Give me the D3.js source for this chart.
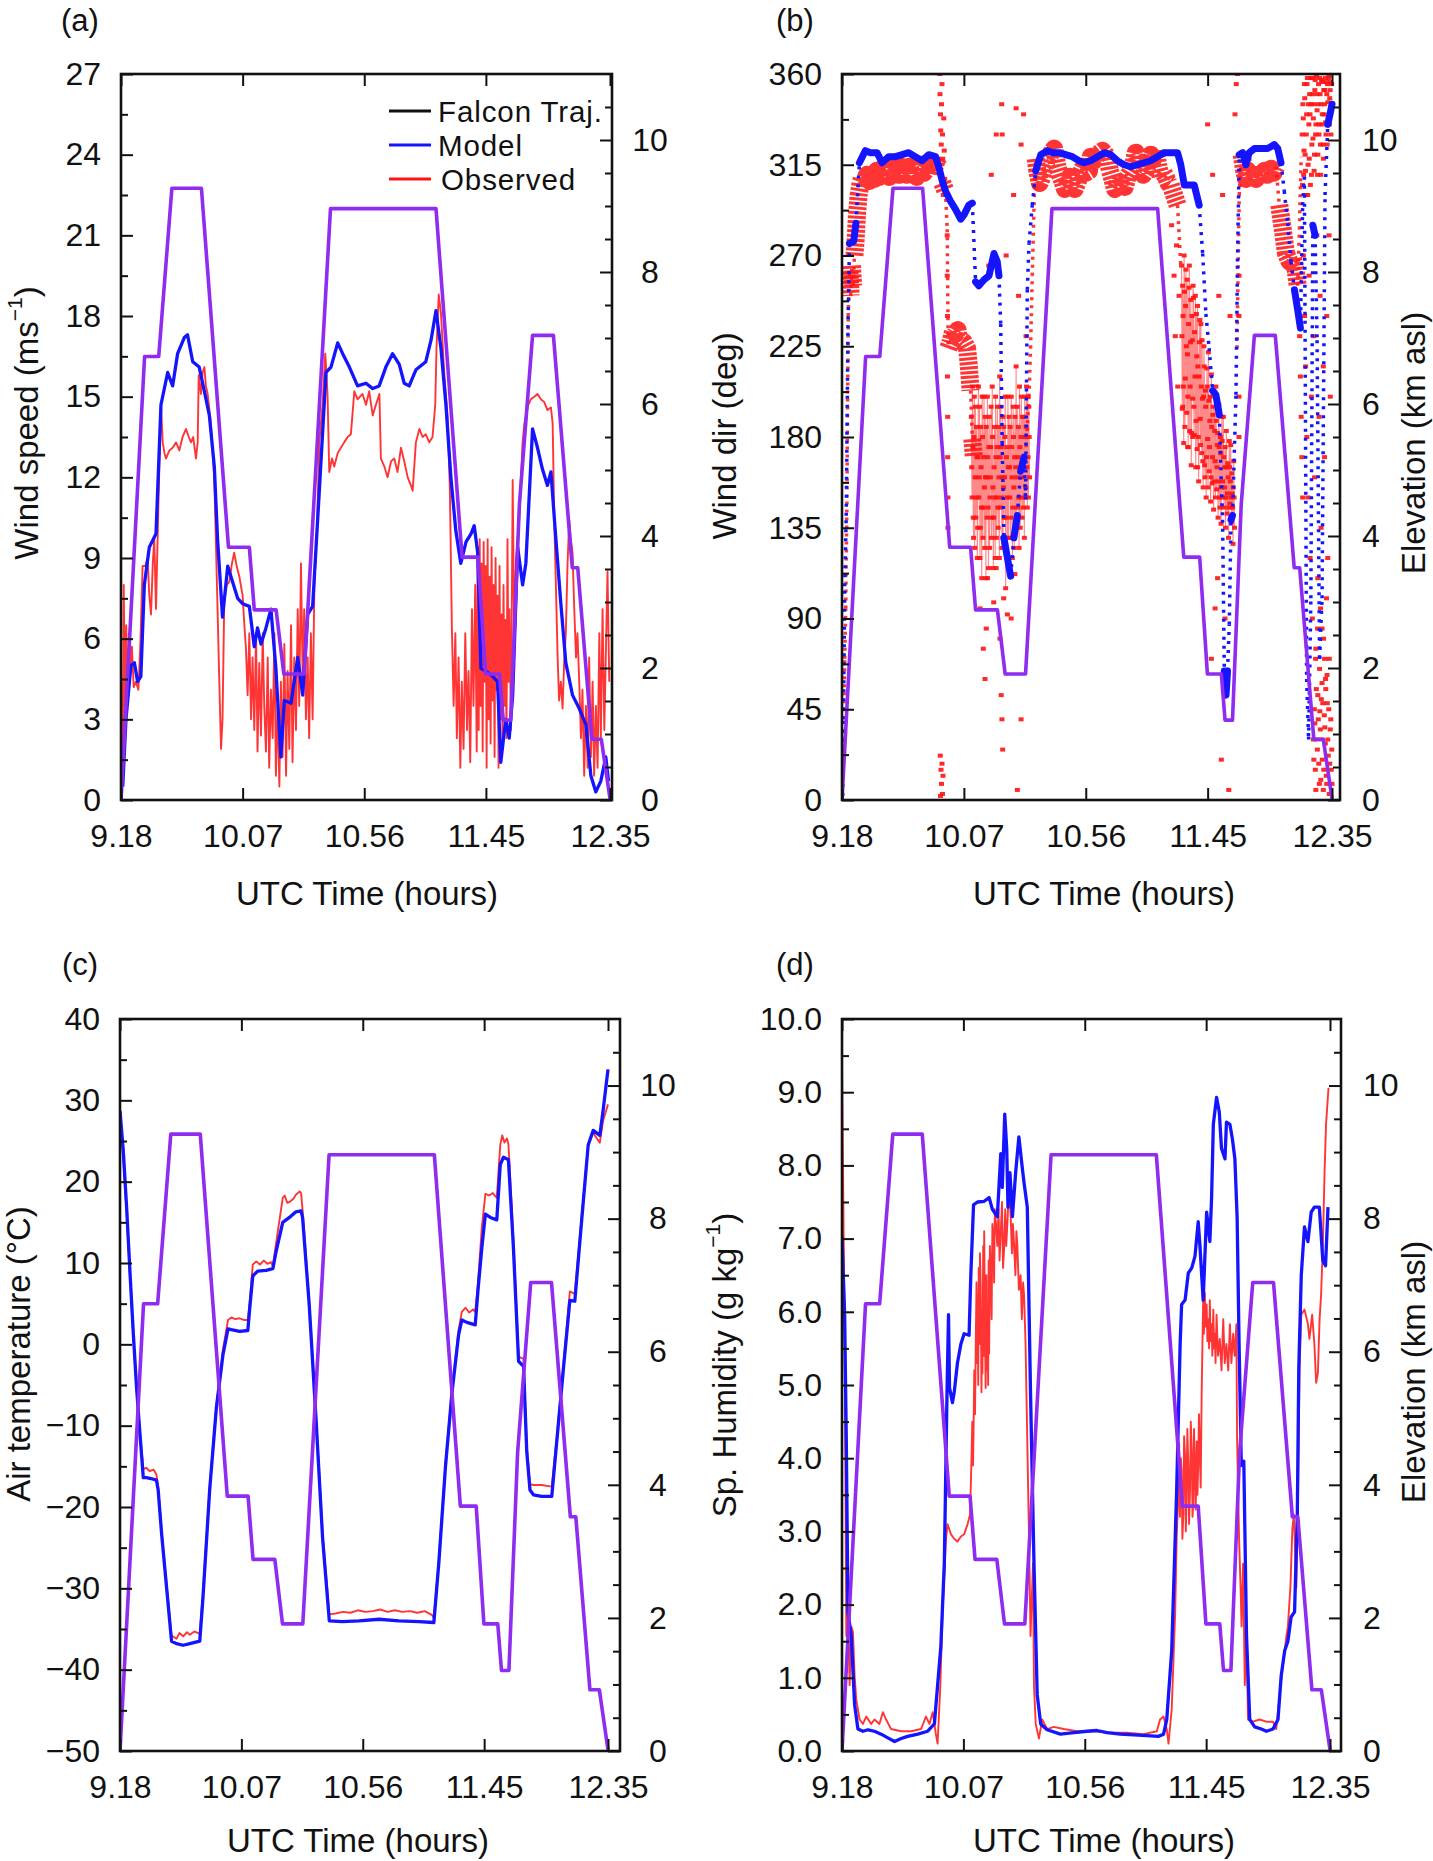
<!DOCTYPE html>
<html><head><meta charset="utf-8">
<script src="https://cdn.jsdelivr.net/npm/d3@7"></script>
<style>
body{margin:0;background:#fff}
text{font-family:"Liberation Sans",Arial,Helvetica,sans-serif;fill:#111}
</style>
</head><body>
<svg id="fig" width="1433" height="1861" xmlns="http://www.w3.org/2000/svg"></svg>
<script>
// ---------- shared axis data ----------
const xTickMinutes = [0, 49, 98, 147, 197];            // minutes after 9:18 UTC
const xTickLabels  = ["9.18", "10.07", "10.56", "11.45", "12.35"];
const elevTicks    = [0, 2, 4, 6, 8, 10];

// Falcon trajectory: [minutes, km asl]
const elevation = [[0,0],[9.5,6.72],[15.2,6.72],[20.5,9.27],[32.4,9.27],[43.3,3.83],[51.7,3.83],[53.7,2.88],[62.5,2.88],[65.6,1.91],[73.8,1.91],[84.4,8.96],[126.9,8.96],[137.4,3.68],[143.8,3.68],[146.9,1.91],[152.5,1.91],[154.0,1.21],[157.0,1.21],[160.5,4.48],[165.8,7.04],[174.2,7.04],[181.8,3.52],[184.0,3.52],[189.7,0.92],[193.5,0.92],[197,0.02]];

// ---------- (a) wind speed ----------
const aModel = [[0.7,0.5],[2,3],[4,5.0],[5.4,5.1],[6.7,4.4],[8,4.6],[9.4,8.0],[11.4,9.4],[14.1,9.9],[16.1,14.7],[18.8,15.9],[20.8,15.4],[22.8,16.6],[25.5,17.2],[26.8,17.3],[28.9,16.3],[31.5,16.1],[33.6,15.2],[35.6,14.3],[37.6,12.4],[38.9,9.7],[40.9,6.8],[43,8.7],[45,8.1],[47,7.5],[49,7.3],[51.7,7.2],[53.7,5.7],[55,6.4],[56.4,5.8],[58.4,6.4],[60.4,7.1],[62.4,4.9],[64.4,1.6],[65.8,3.7],[68.5,3.6],[71.2,5.3],[73.2,3.9],[75.2,6.9],[77.2,7.2],[79.9,11.5],[82.6,15.9],[84.6,16.1],[87.3,17.0],[89.3,16.6],[92,16.1],[95.3,15.4],[98.7,15.5],[101.4,15.3],[104,15.4],[106.7,16.1],[109.4,16.6],[112.1,16.2],[114.1,15.5],[116.1,15.4],[118.8,16.0],[122.8,16.3],[124.9,17.1],[126.9,18.2],[128.9,16.8],[130.9,14.7],[132.9,12.0],[134.9,10.0],[136.9,8.8],[139,9.6],[141,9.9],[142.3,10.2],[143.7,9.2],[145,4.9],[147,4.8],[149.7,4.6],[151.7,4.4],[153,1.4],[155,3.0],[156.4,2.3],[157.8,3.9],[159.8,9.4],[161.8,8.0],[163.1,8.8],[165.8,13.8],[167.8,13.1],[169.8,12.3],[171.8,11.7],[173.2,12.2],[175.2,9.7],[177.2,7.3],[179.2,5.1],[181.9,3.9],[184.6,3.4],[187.3,2.8],[189.3,0.9],[191.3,0.3],[193.3,0.7],[195.3,1.6],[196.4,0.7]];
const aObserved = [[0.4,4.4],[0.7,1.2],[1.1,8.0],[1.6,3.5],[2.1,6.5],[2.7,4.4],[3.4,6.2],[3.9,4.8],[4.4,5.7],[5.1,4.2],[6.0,4.4],[7.0,4.1],[7.8,5.8],[8.7,8.7],[9.8,8.7],[10.7,9.0],[11.4,7.6],[12.1,6.9],[12.8,8.8],[13.4,9.7],[14.1,7.1],[15.2,11.5],[16.1,14.7],[16.8,13.3],[17.5,12.9],[18.1,12.7],[19.5,13.0],[20.8,13.1],[22.2,13.3],[23.5,13.0],[24.8,13.5],[26.2,13.8],[27.3,13.5],[28.2,13.3],[29.1,13.5],[30.2,12.7],[30.9,13.3],[31.3,15.8],[32.2,15.1],[32.9,15.9],[33.6,16.1],[34.2,15.4],[34.9,15.1],[36.2,14.0],[37.6,11.9],[38.9,7.1],[39.6,4.4],[40.3,1.9],[40.9,3.0],[41.6,7.4],[42.6,8.0],[43.6,8.1],[44.7,8.8],[45.6,9.2],[46.6,8.7],[47.7,8.3],[49,7.6],[49.7,6.5],[50.3,5.7],[51,3.9],[51.7,6.2],[52.4,3.0],[53,5.3],[53.7,2.6],[54.4,6.2],[55,1.8],[55.7,5.1],[56.4,2.4],[57.1,6.2],[57.7,3.5],[58.4,1.8],[59.1,5.3],[59.7,1.2],[60.4,4.1],[61.1,2.3],[61.8,6.2],[62.4,0.9],[63.1,3.5],[63.8,0.5],[64.4,4.4],[65.1,1.6],[65.8,5.8],[66.5,0.9],[67.1,4.8],[67.8,1.9],[68.5,6.5],[69.1,1.4],[69.8,5.3],[70.5,2.6],[71.2,7.1],[71.8,3.5],[72.5,8.8],[73.2,4.4],[73.8,7.1],[74.5,3.0],[75.2,5.3],[75.8,2.3],[76.5,6.2],[77.2,3.0],[77.9,8.0],[78.8,9.7],[79.9,13.3],[81.2,14.7],[82.3,16.6],[83.2,15.1],[83.9,12.2],[85,12.7],[85.9,12.4],[87.3,12.9],[88.6,13.1],[89.9,13.3],[91.3,13.5],[92.6,13.6],[94,15.2],[95.3,14.9],[97.3,15.1],[98.7,14.7],[100,15.2],[101.4,14.3],[102.7,14.7],[104.1,15.1],[104.7,12.7],[106.1,12.4],[107.4,12.0],[108.8,12.6],[110.1,12.7],[111.4,12.2],[112.8,13.1],[114.1,12.6],[115.5,12.0],[116.8,11.7],[117.5,11.5],[118.8,13.3],[120.2,13.8],[121.5,13.5],[122.8,13.6],[124.2,13.3],[125.5,13.5],[126.6,14.7],[127.1,16.8],[128,18.8],[128.9,18.1],[130.2,15.9],[131.6,14.2],[132.5,11.5],[133.3,6.4],[134,3.5],[134.7,6.2],[135.3,2.3],[136,5.3],[136.7,1.2],[137.3,4.4],[138,1.9],[138.7,6.2],[139.4,2.6],[140,4.8],[140.7,1.4],[141.4,7.1],[142,3.5],[142.7,8.0],[143.3,1.8],[143.7,9.4],[144.1,2.6],[144.5,9.7],[144.9,3.5],[145.3,8.8],[145.7,1.8],[146.1,9.6],[146.5,4.4],[146.9,8.7],[147.3,1.2],[147.7,9.7],[148.1,3.0],[148.5,8.3],[148.9,2.1],[149.3,9.4],[149.7,3.7],[150.1,8.0],[150.5,1.6],[150.9,9.0],[151.3,4.1],[151.7,7.6],[152.1,1.2],[152.5,8.7],[152.9,3.0],[153.3,6.9],[153.7,1.9],[154.1,8.0],[154.5,3.5],[154.9,6.7],[155.3,2.3],[155.7,9.7],[156.1,4.4],[156.5,7.1],[157.1,2.6],[157.8,11.9],[158.4,6.2],[159.1,8.8],[159.8,9.7],[160.4,10.4],[161.1,11.9],[161.8,13.3],[162.5,14.0],[163.1,14.3],[164.1,14.7],[165.1,14.9],[166.5,15.0],[167.8,15.1],[169.2,14.9],[170.5,14.8],[171.8,14.5],[173.2,14.6],[173.9,14.0],[174.5,10.6],[175.2,8.0],[175.9,5.3],[176.5,3.7],[177.2,4.4],[177.9,3.4],[178.6,5.3],[179.2,6.2],[179.9,8.8],[180.6,10.4],[181.2,9.7],[181.9,9.2],[182.6,7.1],[183.3,5.3],[183.9,6.2],[184.6,4.4],[185.3,2.3],[185.9,4.1],[186.6,0.9],[187.3,3.5],[188,1.2],[188.6,5.3],[189.3,1.6],[190,4.4],[190.6,0.9],[191.3,3.5],[192,1.2],[192.7,6.2],[193.3,2.3],[194,7.1],[194.7,2.6],[195.3,5.3],[196,8.5],[196.7,4.4]];

// ---------- (b) wind direction ----------
const bModel = [[0.3,2],[0.6,40],[0.9,80],[1.1,106],[1.7,141],[2.4,234],[3,276],[4.7,277],[5.6,286],[7,316],[9.4,322],[11.4,321],[14.1,321],[16.1,316],[18.8,319],[21.5,319],[24.2,320],[26.8,321],[29.5,319],[32.2,317],[34.9,320],[37.6,319],[38.9,314],[40.3,307],[41.6,302],[43.6,297],[45.6,293],[47.7,288],[49,290],[51,295],[52.4,296],[53.7,257],[55,255],[57.1,258],[59.1,260],[61.1,271],[62.4,267],[63.1,260],[63.8,236],[64.4,177],[65.1,130],[66.5,120],[67.8,111],[69.1,130],[70.5,141],[71.8,163],[73.2,170],[73.8,149],[74.5,253],[75.2,276],[76.5,295],[77.9,312],[79.9,320],[82.6,322],[84.6,321],[87.3,321],[89.9,320],[92.6,319],[95.3,317],[97.3,316],[100,317],[102.7,319],[105.4,321],[108,320],[110.7,317],[113.4,315],[116.1,314],[118.8,315],[121.5,316],[124.1,317],[126.8,319],[129.5,321],[132.2,321],[134.9,321],[136.2,315],[137.6,305],[139.6,305],[141.6,305],[143.6,295],[145,271],[146.3,241],[147.6,224],[149,203],[150.3,201],[151.7,191],[152.3,165],[153,139],[153.7,64],[154.4,52],[155,64],[155.7,87],[156.4,139],[157,141],[158.4,201],[159,267],[159.7,320],[161.1,321],[162.4,315],[163.7,321],[165.8,323],[168.4,323],[171.1,323],[173.8,325],[175.2,323],[176.5,316],[177.8,302],[179.2,286],[180.5,267],[181.9,253],[183.2,243],[184.3,234],[185.2,295],[185.9,309],[186.8,60],[187.6,30],[188.5,100],[189.3,285],[190.2,280],[191,228],[192,70],[193,100],[194.2,300],[195.3,335],[196.2,340],[197,345]];
const bObservedTrack = [[0.3,10],[0.7,40],[1.1,70],[1.5,95],[2.0,150],[2.5,240],[3,262],[3.5,250],[4,265],[4.5,255],[5,270],[5.5,278],[6,290],[6.7,300],[7.5,306],[8,308],[9,306],[10,310],[11,307],[12,311],[13,308],[14,312],[15,309],[16,313],[17,310],[18,312],[19,309],[20,313],[21,311],[22,313],[23,310],[24,314],[25,312],[26,310],[27,314],[28,311],[29,313],[30,309],[31,312],[32,315],[33,311],[34,313],[35,310],[36,316],[37,313],[38,317],[38.9,319],[40.3,306],[41.6,302],[42.3,283],[42.7,224],[43.6,227],[44.6,232],[45.6,231],[46.5,233],[47,229],[48,228],[49,227],[50.3,224],[51,215],[51.7,203],[52.4,179],[53,170],[74,175],[75.2,200],[75.8,224],[76.5,260],[77.2,295],[77.9,318],[78.5,312],[79.5,306],[80.5,309],[81.5,314],[82.5,318],[83.2,319],[84.2,321],[85.3,323],[86.6,314],[87.6,310],[88.6,307],[89.6,303],[90.6,305],[91.6,309],[92.6,307],[93.6,303],[94.6,306],[95.6,310],[96.7,313],[98,311],[99.3,312],[100,319],[101.3,317],[102.7,320],[104.7,322],[106.7,319],[107.7,312],[108.7,308],[109.7,303],[110.7,305],[111.7,309],[112.7,307],[113.7,304],[114.8,309],[116.8,313],[118.1,321],[119.1,317],[120.1,315],[121.1,310],[122.1,312],[123.1,317],[124.1,320],[125.2,318],[126.2,322],[127.2,314],[128.2,309],[129.2,311],[130.2,309],[131.2,306],[132.2,305],[133.5,300],[134.9,295],[136.2,265],[158.8,224],[159.7,300],[160.7,320],[161.7,312],[162.4,308],[163.1,312],[164.4,309],[165.5,311],[166.5,308],[167.1,310],[168.5,309],[169.8,312],[171,310],[172.5,313],[173.5,311],[174.5,314],[175.8,295],[177.2,283],[178.5,271],[179.9,267],[181.2,269],[182.5,262],[183.2,255],[183.9,283],[184.6,319]];
// dense scatter of observed wind direction (dot clouds)
const bCloudA = [[52.0,190],[52.15,165],[52.3,150],[52.45,205],[52.6,175],[52.75,140],[52.9,130],[53.05,180],[53.2,200],[53.35,125],[53.5,160],[53.65,195],[53.8,140],[53.95,150],[54.1,185],[54.25,170],[54.4,120],[54.55,135],[54.7,170],[54.85,205],[55.0,150],[55.15,160],[55.3,195],[55.45,120],[55.6,135],[55.75,185],[55.9,165],[56.05,145],[56.2,110],[56.35,200],[56.5,180],[56.65,130],[56.8,145],[56.95,170],[57.1,200],[57.25,155],[57.4,125],[57.55,190],[57.7,160],[57.85,110],[58.0,185],[58.15,160],[58.3,140],[58.45,200],[58.6,170],[58.75,145],[58.9,115],[59.05,175],[59.2,190],[59.35,125],[59.5,150],[59.65,160],[59.8,175],[59.95,195],[60.1,130],[60.25,140],[60.4,205],[60.55,180],[60.7,155],[60.85,115],[61.0,140],[61.15,165],[61.3,185],[61.45,150],[61.6,120],[61.75,200],[61.9,170],[62.05,130],[62.2,150],[62.35,175],[62.5,195],[62.65,145],[62.8,135],[62.95,185],[63.1,160],[63.25,120],[63.4,210],[63.55,170],[63.7,145],[63.85,195],[64.0,175],[64.15,150],[64.3,125],[64.45,160],[64.6,190],[64.75,130],[64.9,155],[65.05,185],[65.2,140],[65.35,160],[65.5,180],[65.65,200],[65.8,105],[65.95,140],[66.1,170],[66.25,175],[66.4,150],[66.55,120],[66.7,200],[66.85,165],[67.0,130],[67.15,190],[67.3,165],[67.45,150],[67.6,185],[67.75,130],[67.9,140],[68.05,200],[68.2,175],[68.35,160],[68.5,120],[68.65,145],[68.8,195],[68.95,180],[69.1,155],[69.25,125],[69.4,170],[69.55,190],[69.7,135],[69.85,165],[70.0,215],[70.15,140],[70.3,160],[70.45,195],[70.6,145],[70.75,170],[70.9,185],[71.05,150],[71.2,125],[71.35,205],[71.5,175],[71.65,135],[71.8,150],[71.95,180],[72.1,200],[72.25,160],[72.4,140],[72.55,190],[72.7,165],[72.85,145],[73.0,190],[73.15,170],[73.3,130],[73.45,200],[73.6,180],[73.75,150],[73.9,155],[74.05,185],[74.2,205],[74.35,165],[74.5,145],[74.65,200],[74.8,170],[74.95,150],[75.1,195],[75.25,180],[75.4,160]];
const bCloudB = [[136.5,265],[136.65,230],[136.8,194],[136.95,255],[137.1,240],[137.25,205],[137.4,177],[137.55,270],[137.7,252],[137.85,185],[138.0,209],[138.15,245],[138.3,263],[138.45,225],[138.6,192],[138.75,258],[138.9,221],[139.05,200],[139.2,175],[139.35,236],[139.5,254],[139.65,265],[139.8,183],[139.95,205],[140.1,227],[140.25,248],[140.4,166],[140.55,182],[140.7,240],[140.85,228],[141.0,199],[141.15,255],[141.3,249],[141.45,195],[141.6,181],[141.75,232],[141.9,210],[142.05,250],[142.2,165],[142.35,188],[142.5,241],[142.65,220],[142.8,174],[142.95,245],[143.1,215],[143.25,180],[143.4,158],[143.55,210],[143.7,227],[143.85,238],[144.0,189],[144.15,176],[144.3,236],[144.45,205],[144.6,172],[144.75,228],[144.9,199],[145.05,168],[145.2,155],[145.35,200],[145.5,225],[145.65,215],[145.8,166],[145.95,160],[146.1,203],[146.25,195],[146.4,150],[146.55,170],[146.7,214],[146.85,205],[147.0,179],[147.15,155],[147.3,222],[147.45,198],[147.6,163],[147.75,175],[147.9,188],[148.05,200],[148.2,148],[148.35,160],[148.5,211],[148.65,185],[148.8,157],[148.95,170],[149.1,191],[149.25,195],[149.4,144],[149.55,158],[149.7,202],[149.85,183],[150.0,168],[150.15,150],[150.3,205],[150.45,188],[150.6,154],[150.75,165],[150.9,176],[151.05,182],[151.2,140],[151.35,158],[151.5,196],[151.65,175],[151.8,150],[151.95,145],[152.1,180],[152.25,172],[152.4,137],[152.55,155],[152.7,190],[152.85,178],[153.0,158],[153.15,150],[153.3,190],[153.45,170],[153.6,145],[153.75,155],[153.9,165],[154.05,175],[154.2,135],[154.35,150],[154.5,183],[154.65,165],[154.8,142],[154.95,152],[155.1,167],[155.25,160],[155.4,130],[155.55,145],[155.7,178],[155.85,165],[156.0,147],[156.15,158],[156.3,176],[156.45,150],[156.6,138],[156.75,162],[156.9,152],[157.05,145],[157.2,127],[157.35,155],[157.5,168],[157.65,150],[157.8,135]];
const bScatter = [
 [39.3,360],[39.4,350],[39.6,340],[39.7,332],[39.9,325],[40.0,345],[40.2,355],[40.4,330],[40.5,318],[40.7,300],[40.9,338],[41.1,322],[41.3,308],[39.5,22],[39.8,15],[40.0,8],[40.2,18],[40.4,3],[39.6,2],[40.6,12],
 [42.3,280],[42.3,260],[42.4,240],[42.4,210],[42.5,190],[42.5,170],[42.6,150],[42.6,135],
 [55.5,95],[56.8,75],[57.5,60],[58,85],[63.5,80],[64,52],[64.3,40],[64.6,25],[65,100],[68,90],[70.5,5],[72,40],[60,310],[64.2,345],[64.4,330],[70,343],[72,325],[73,340],[59,265],[66,270],[71,250],[74,230],[62,330],[69,300],[58.5,110],[61,98],[66.5,92],[69.5,112],[62,115],
 [132.5,285],[133.5,260],[134,230],[135,205],[135.5,250],[134.5,275],[137,195],[139,175],[141,180],[143,165],[150,95],[151,110],[154,90],[148.5,70],[152.5,20],[155.5,5],[153,300],[158,340],[158.5,355],[159,360],[156,240],[151.5,250],[149,310],[147,335],[159.6,200],[159.6,180],[159.6,240],[159.6,260],
 [184,230],[184.3,210],[184.6,190],[184.9,170],[185.2,150],
 [185.0,330],[185.15,305],[185.3,345],[185.45,338],[185.6,310],[185.75,322],[185.9,355],[186.05,348],[186.2,320],[186.35,312],[186.5,300],[186.65,330],[186.8,340],[186.95,355],[187.1,358],[187.25,300],[187.4,315],[187.55,345],[187.7,335],[187.85,318],[188.0,350],[188.15,340],[188.3,305],[188.45,358],[188.6,345],[188.75,310],[188.9,325],[189.05,350],[189.2,358],[189.35,328],[189.5,338],[189.65,345],[189.8,312],[189.95,320],[190.1,352],[190.25,357],[190.4,330],[190.55,335],[190.7,359],[190.85,350],[191.0,342],[191.15,310],[191.3,320],[191.45,345],[191.6,355],[191.75,330],[191.9,335],[192.05,358],[192.2,350],[192.35,325],[192.5,310],[192.65,345],[192.8,357],[192.95,335],[193.1,340],[193.25,356],[193.4,325],[193.55,318],[193.7,352],[193.85,340],[194.0,345],[194.15,352],[194.3,358],[194.45,336],[194.6,330],[194.75,356],[194.9,350],[195.05,325],[195.2,355],[195.35,346],[195.5,338],[195.65,358],[195.8,359],[195.95,335],[196.1,348],[196.25,352],[196.4,356],[196.55,330],[196.7,342],[196.85,355],
 [185.5,270],[186,240],[186.4,215],[186.9,180],[187.3,150],[187.8,260],[188.2,120],[188.7,200],[189.1,90],[189.6,230],[190,160],[190.4,70],[190.9,280],[191.3,110],[191.8,190],[192.2,250],[192.6,135],[193,85],[193.5,215],[194,170],[194.4,60],[194.9,240],[195.3,120],[195.8,280],[196.3,200],
 [189.5,30],[189.7,20],[189.9,45],[190.1,38],[190.3,15],[190.5,5],[190.7,55],[190.9,30],[191.1,25],[191.3,52],[191.5,40],[191.7,18],[191.9,8],[192.1,44],[192.3,35],[192.5,10],[192.7,50],[192.9,30],[193.1,20],[193.3,48],[193.5,5],[193.7,15],[193.9,42],[194.1,36],[194.3,28],[194.5,55],[194.7,12],[194.9,8],[195.1,48],[195.3,30],[195.5,22],[195.7,45],[195.9,3],[196.1,18],[196.3,35],[196.5,40],[196.7,15],[196.9,25],[197,8],[192,65],[193,58],[195,62],[190.5,75],[194,70],[191.2,85],[192.4,95],[193.6,80],[194.8,100],[195.9,70]
];

// ---------- (c) air temperature ----------
const cModel = [[0,28.7],[1.3,23.9],[2.7,16.7],[4,9.0],[5.4,1.2],[6.7,-5.4],[8,-10.8],[9.4,-16.4],[10.7,-16.4],[12.5,-16.5],[14.7,-16.7],[15.4,-17.9],[16.8,-23.3],[18.8,-29.9],[20.8,-36.5],[22.8,-36.8],[25.5,-37.0],[28.2,-36.8],[32.2,-36.5],[33.5,-31.1],[36.2,-17.9],[38.9,-7.8],[41.6,-1.2],[43.6,1.9],[44.9,1.8],[48.3,1.6],[51.6,1.7],[52.3,4.2],[53.6,8.4],[55.6,9.0],[59,9.1],[61.7,9.3],[63,11.4],[65.7,15.0],[68.4,15.6],[71,16.3],[73.1,16.4],[73.7,15.6],[76.4,4.8],[79.1,-9.0],[81.8,-23.9],[84.5,-34.0],[89.8,-34.1],[96.5,-34.0],[104.6,-33.8],[112.6,-34.0],[120.6,-34.1],[126.7,-34.2],[128.7,-26.9],[131.4,-15.0],[134,-6.0],[136.7,1.2],[138,3.0],[140,2.7],[143.4,2.4],[144.5,6.6],[146.1,12.0],[147.5,16.0],[149.5,15.6],[152.1,15.3],[153.5,22.1],[154.8,23.0],[156.8,22.7],[158.8,12.0],[160.9,-2.1],[162.9,-2.7],[164.2,-13.2],[165.5,-17.9],[166.9,-18.5],[170.2,-18.7],[174.3,-18.7],[176.3,-12.0],[179,-3.0],[181.6,5.4],[183.6,5.3],[186.3,15.0],[189,24.5],[191,26.3],[193.7,25.7],[195,28.7],[197,33.8]];
const cObserved = [[0,27.5],[1.3,23],[2.7,16],[4,8.5],[5.4,0.8],[6.7,-5.5],[8,-10.5],[9.4,-15.3],[10.7,-15.2],[12,-15.6],[13.5,-15.4],[14.7,-16.0],[15.4,-17.5],[16.8,-23],[18.8,-29.5],[20.8,-35.8],[22.8,-36.2],[24,-35.5],[25.5,-35.9],[27,-35.4],[28.2,-35.7],[30,-35.3],[32.2,-35.6],[33.5,-30.5],[36.2,-17.5],[38.9,-7.5],[41.6,-0.6],[43.6,3.0],[45,3.3],[46.5,3.1],[48.3,3.2],[50,3.0],[51.6,3.0],[52.3,5],[53.6,9.8],[55,10.2],[56.5,9.8],[58,10.3],[59.5,9.9],[61,10.1],[61.7,9.6],[63,12.4],[65.7,18.0],[66.5,18.3],[67.5,17.4],[68.4,17.5],[70,17.9],[71,18.4],[72.5,18.8],[73.1,18.6],[73.7,16.5],[76.4,5.2],[79.1,-8.6],[81.8,-23.3],[84.5,-33.2],[87,-33.1],[90,-32.9],[93,-33.0],[96,-32.7],[99,-32.9],[102,-32.8],[105,-32.6],[108,-32.9],[111,-32.7],[114,-32.9],[117,-32.8],[120,-33.0],[123,-32.8],[126,-33.3],[126.7,-33.7],[128.7,-26.5],[131.4,-14.6],[134,-5.7],[136.7,1.8],[138,4.0],[139.5,4.5],[141,3.9],[142.5,4.3],[143.4,4.0],[144.5,7.5],[146.1,14.5],[147.5,18.5],[149,18.3],[150.5,18.6],[152.1,18.0],[153.5,24.5],[154.3,25.7],[155.2,24.8],[156.2,25.3],[156.8,24.6],[158.8,13],[160.9,-1.5],[162.9,-1.8],[164.2,-12.5],[165.5,-17.2],[167,-17.3],[170.2,-17.3],[174.3,-17.5],[176.3,-11.5],[179,-2.5],[181.6,6.5],[183.6,6.2],[186.3,15.5],[189,24.5],[191,26.0],[192.5,25.3],[193.7,24.8],[195,27.5],[197,29.5]];

// ---------- (d) specific humidity ----------
const dModel = [[0,7.03],[1.07,5.96],[1.74,4.23],[2.41,1.9],[3.75,1.57],[5.09,0.63],[6.43,0.3],[8.45,0.27],[10.5,0.29],[13.1,0.27],[15.8,0.23],[18.5,0.18],[21.2,0.13],[23.9,0.17],[26.5,0.2],[30.6,0.23],[34.6,0.27],[37.3,0.37],[38.6,0.9],[39.9,1.43],[41.3,2.56],[42.4,4.9],[43,5.96],[43.4,4.96],[44.6,4.76],[45.3,4.9],[46.6,5.3],[48,5.56],[49.3,5.7],[51.3,5.68],[52,6.5],[53.1,7.46],[54.7,7.5],[57.4,7.51],[59.4,7.56],[60.7,7.4],[62.7,7.3],[64.1,8.16],[64.7,7.7],[65.7,8.7],[66.5,8.23],[67,7.43],[67.8,7.9],[68.8,7.3],[70.1,7.9],[71.4,8.39],[72.8,7.96],[73.5,7.76],[74.8,7.43],[76.1,4.9],[77.5,2.56],[78.8,0.77],[80.2,0.37],[82.8,0.29],[88.2,0.23],[93.6,0.25],[98.9,0.27],[102.9,0.28],[107,0.25],[112.3,0.23],[117.7,0.22],[123,0.21],[127.7,0.2],[129.8,0.23],[131.1,0.43],[133.1,1.37],[135.1,3.56],[136.5,5.56],[137.1,6.1],[138.5,6.16],[139.8,6.53],[141.2,6.6],[142.5,6.76],[143.8,7.23],[144.5,6.9],[145.2,6.5],[145.8,6.16],[147.2,7.36],[148.5,6.96],[149.2,7.56],[149.9,8.56],[151.2,8.93],[152.3,8.73],[153.2,8.23],[154.6,8.09],[155.2,8.59],[156.6,8.56],[157.6,8.36],[158.6,8.09],[159.5,7.3],[160.3,5.56],[161.2,3.9],[162.2,3.96],[163.3,1.57],[164.6,0.43],[166.6,0.33],[169.3,0.3],[171.3,0.27],[174,0.3],[176,0.43],[177.3,1.03],[178.7,1.37],[180,1.5],[181.3,1.83],[182.7,1.9],[183.8,3.23],[184.4,5.23],[185.4,6.5],[186.7,7.16],[188.1,6.96],[189.4,7.36],[190.7,7.43],[192.7,7.43],[194.1,6.7],[195.2,6.63],[196.2,7.43]];
const dObserved = [[0,9.43],[1.07,5.56],[1.74,1.57],[2.41,1.9],[3.08,0.9],[3.75,1.7],[4.42,1.63],[5.09,1.03],[5.76,0.7],[7.1,0.43],[8.45,0.37],[9.79,0.47],[11.8,0.37],[13.1,0.43],[15.1,0.37],[16.5,0.53],[17.8,0.43],[19.8,0.3],[23.9,0.27],[27.9,0.27],[31.9,0.3],[33.9,0.47],[35.3,0.37],[36.6,0.53],[37.9,0.23],[38.6,0.1],[39.7,0.9],[40.6,1.9],[42,2.9],[42.6,3.1],[44,2.96],[45.3,2.9],[46.6,2.86],[48,2.93],[49.3,2.96],[50.7,3.1],[51.7,3.23],[52.3,4.03],[52.6,4.5],[52.9,3.9],[53.1,4.36],[53.4,5.2],[53.7,4.6],[54,5.56],[54.3,6.4],[54.5,5.3],[54.7,6.23],[55,5.0],[55.2,6.6],[55.4,5.56],[55.7,6.8],[56,6.36],[56.3,4.9],[56.5,6.0],[56.7,5.16],[57,6.9],[57.2,5.4],[57.4,7.1],[57.7,5.8],[58,4.96],[58.3,6.5],[58.5,5.2],[58.7,6.1],[59,5.0],[59.2,6.7],[59.4,5.43],[59.7,6.9],[60.1,6.5],[60.4,5.9],[60.7,7.2],[61.1,7.03],[61.4,6.4],[61.7,7.4],[62.1,7.23],[62.7,6.9],[63.2,7.4],[63.6,6.7],[64.1,7.1],[64.6,7.5],[65,6.6],[65.4,6.83],[65.9,7.4],[66.3,6.9],[66.8,7.23],[67.4,7.7],[68.1,7.3],[68.6,6.8],[69,7.2],[69.4,6.96],[70,6.5],[70.4,7.1],[70.8,6.9],[71.4,6.3],[72.1,6.5],[72.6,5.9],[73.1,6.4],[73.5,6.23],[74.1,5.56],[74.8,4.23],[75.5,2.9],[76.1,1.57],[77.1,2.56],[77.5,0.9],[78.2,0.37],[79.5,0.17],[80.8,0.43],[82.8,0.3],[85.5,0.33],[89.5,0.3],[94.9,0.27],[101.6,0.27],[108.3,0.25],[115,0.25],[121.7,0.23],[127.1,0.27],[128.4,0.43],[129.8,0.47],[131.1,0.3],[131.8,0.1],[133.1,0.57],[134.5,1.9],[135.1,2.9],[135.8,3.56],[136.1,4.2],[136.4,3.2],[136.8,4.0],[137.1,3.83],[137.4,2.9],[137.8,3.23],[138.1,4.3],[138.5,4.03],[138.8,3.0],[139.1,3.43],[139.4,4.4],[139.8,3.9],[140.1,3.1],[140.5,3.56],[140.8,4.5],[141.2,4.1],[141.5,3.2],[141.8,3.37],[142.1,4.4],[142.5,3.83],[142.8,3.3],[143.2,4.23],[143.5,3.5],[143.8,3.9],[144.1,4.6],[144.5,4.03],[144.8,3.6],[145.2,4.9],[145.8,6.16],[146.1,5.7],[146.5,6.26],[146.8,5.8],[147.2,6.1],[147.5,5.6],[147.9,5.9],[148.2,5.5],[148.5,6.16],[148.8,5.6],[149.2,5.83],[149.5,5.4],[149.9,6.03],[150.2,5.5],[150.5,5.7],[150.8,5.3],[151.2,5.96],[151.8,5.4],[152.5,5.63],[153.2,5.2],[153.9,5.9],[154.5,5.3],[155.2,5.56],[155.9,5.2],[156.6,5.83],[157.2,5.3],[157.9,5.7],[158.5,5.4],[159.2,5.83],[159.5,4.23],[160.3,2.9],[160.9,2.23],[161.3,1.7],[161.9,2.56],[162.6,0.9],[163.3,1.57],[163.9,0.43],[165.9,0.4],[168.6,0.43],[171.3,0.4],[174,0.4],[175.3,0.3],[176.7,0.77],[178,1.17],[179.4,1.57],[180,1.7],[181,2.23],[181.8,3.03],[182.4,3.23],[183.4,2.23],[184,3.23],[184.7,5.23],[185.4,5.96],[186.7,6.03],[188.1,5.83],[188.7,5.63],[189.8,5.96],[190.7,5.56],[191.4,5.03],[192.1,5.16],[192.8,5.9],[193.4,6.23],[194.1,6.9],[194.8,7.9],[195.4,8.56],[196.4,9.06]];

// ---------- colours ----------
const COL_MODEL = "#1414ff", COL_OBS = "#ff1212", COL_TRAJ = "#8f2cf0";

const svg = d3.select("#fig");
const FONT = '"Liberation Sans", Arial, Helvetica, sans-serif';

function textTitle(x, y, parts, rotate) {
  const t = svg.append("text")
    .attr("transform", `translate(${x},${y})` + (rotate ? " rotate(-90)" : ""))
    .attr("text-anchor", "middle").attr("dominant-baseline", "central")
    .attr("font-size", 33).attr("font-family", FONT);
  parts.forEach(p => {
    const s = t.append("tspan").text(p.t);
    if (p.sup) s.attr("font-size", 21).attr("dy", -12);
    if (p.after) s.attr("dy", 12);
  });
  return t;
}

function styleAxis(g, fs) {
  g.attr("font-family", FONT).attr("font-size", fs);
  g.select(".domain").remove();
  g.selectAll(".tick line").attr("stroke", "#111").attr("stroke-width", 2);
  g.selectAll(".tick text").attr("fill", "#111");
}

// thick runs for gently varying parts, sparse dotted strokes for steep jumps
function segmented(layer, data, x, y, o) {
  let run = [];
  const flush = () => {
    if (run.length > 1) {
      layer.append("path").attr("d", d3.line()(run)).attr("fill", "none")
        .attr("stroke", o.color).attr("stroke-width", o.wide).attr("opacity", o.op)
        .attr("stroke-linejoin", "round").attr("stroke-linecap", o.bandDash ? "butt" : "round")
        .attr("stroke-dasharray", o.bandDash || null);
    }
    run = [];
  };
  data.forEach((d, i) => {
    const pt = [x(d[0]), y(d[1])];
    if (i === 0) { run = [pt]; return; }
    const prev = data[i - 1];
    const pp = [x(prev[0]), y(prev[1])];
    if (d[0] - prev[0] > o.gap) { flush(); run = [pt]; return; }
    const dy = Math.abs(pt[1] - pp[1]), dx = Math.abs(pt[0] - pp[0]);
    if (dy > 26 && dy > 3 * dx) {
      flush();
      layer.append("line").attr("x1", pp[0]).attr("y1", pp[1]).attr("x2", pt[0]).attr("y2", pt[1])
        .attr("stroke", o.color).attr("stroke-width", o.thin).attr("opacity", o.op)
        .attr("stroke-dasharray", o.dash);
      run = [pt];
    } else run.push(pt);
  });
  flush();
}

function drawPanel(p) {
  const x = d3.scaleLinear().domain([0, 197]).range(p.xr);
  const y = d3.scaleLinear().domain(p.yDomain).range([p.b, p.t]);
  const yE = d3.scaleLinear().domain([0, 11]).range([p.b, p.t]);

  svg.append("clipPath").attr("id", "clip" + p.id).append("rect")
    .attr("x", p.l).attr("y", p.t).attr("width", p.r - p.l).attr("height", p.b - p.t);
  const plot = svg.append("g").attr("clip-path", `url(#clip${p.id})`);

  p.drawData(plot, x, y);
  const line = d3.line().x(d => x(d[0])).y(d => yE(d[1]));
  plot.append("path").datum(elevation).attr("d", line).attr("fill", "none")
    .attr("stroke", COL_TRAJ).attr("stroke-width", 3.6).attr("stroke-linejoin", "round");

  const major = p.major;
  const minor = d3.range(p.yDomain[0], p.yDomain[1] + 1e-9, p.minorStep)
    .filter(v => !major.some(m => Math.abs(m - v) < 1e-6));
  const gl = svg.append("g").attr("transform", `translate(${p.l},0)`)
    .call(d3.axisLeft(y).tickValues(major).tickFormat(p.fmt).tickSize(-12).tickPadding(20));
  styleAxis(gl, 32);
  const glm = svg.append("g").attr("transform", `translate(${p.l},0)`)
    .call(d3.axisLeft(y).tickValues(minor).tickFormat("").tickSize(-7));
  styleAxis(glm, 32);

  const eMinor = d3.range(0.5, 10.6, 0.5).filter(v => !elevTicks.includes(v));
  const gr = svg.append("g").attr("transform", `translate(${p.r},0)`)
    .call(d3.axisRight(yE).tickValues(elevTicks).tickSize(-12).tickPadding(p.rightOff));
  styleAxis(gr, 32);
  if (p.rightMode === "middle") gr.selectAll(".tick text").attr("text-anchor", "middle");
  const grm = svg.append("g").attr("transform", `translate(${p.r},0)`)
    .call(d3.axisRight(yE).tickValues(eMinor).tickFormat("").tickSize(-7));
  styleAxis(grm, 32);

  const gb = svg.append("g").attr("transform", `translate(0,${p.b})`)
    .call(d3.axisBottom(x).tickValues(xTickMinutes).tickFormat((d, i) => xTickLabels[i]).tickSize(-12).tickPadding(24));
  styleAxis(gb, 32);
  const gt = svg.append("g").attr("transform", `translate(0,${p.t})`)
    .call(d3.axisTop(x).tickValues(xTickMinutes).tickFormat("").tickSize(-12));
  styleAxis(gt, 32);

  svg.append("rect").attr("x", p.l).attr("y", p.t).attr("width", p.r - p.l).attr("height", p.b - p.t)
    .attr("fill", "none").attr("stroke", "#111").attr("stroke-width", 2.6);

  textTitle(p.xTitle[0], p.xTitle[1], [{t: "UTC Time (hours)"}], false);
  textTitle(p.yTitle[0], p.yTitle[1], p.yTitleParts, true);
  if (p.rTitle) textTitle(p.rTitle[0], p.rTitle[1], [{t: "Elevation (km asl)"}], true);
  svg.append("text").attr("x", p.label[0]).attr("y", p.label[1])
    .attr("text-anchor", "middle").attr("dominant-baseline", "central")
    .attr("font-size", 31).attr("font-family", FONT).text(p.labelText);
}

function plainLines(model, obs) {
  return function(plot, x, y) {
    const line = d3.line().x(d => x(d[0])).y(d => y(d[1]));
    plot.append("path").datum(obs).attr("d", line).attr("fill", "none")
      .attr("stroke", COL_OBS).attr("stroke-width", 1.9).attr("opacity", 0.85).attr("stroke-linejoin", "round");
    plot.append("path").datum(model).attr("d", line).attr("fill", "none")
      .attr("stroke", COL_MODEL).attr("stroke-width", 3.3).attr("stroke-linejoin", "round");
  };
}

// (a)
drawPanel({
  id: "a", l: 121, r: 612, t: 74, b: 800, xr: [121, 610],
  yDomain: [0, 27], major: d3.range(0, 28, 3), minorStep: 1.5, fmt: d3.format("d"),
  rightMode: "middle", rightOff: 38,
  xTitle: [367, 893], yTitle: [26, 423],
  yTitleParts: [{t: "Wind speed (ms"}, {t: "\u22121", sup: true}, {t: ")", after: true}],
  label: [80, 20], labelText: "(a)",
  drawData: plainLines(aModel, aObserved)
});

// (b)
drawPanel({
  id: "b", l: 842, r: 1340, t: 74, b: 800, xr: [842, 1332],
  yDomain: [0, 360], major: d3.range(0, 361, 45), minorStep: 22.5, fmt: d3.format("d"),
  rightMode: "start", rightOff: 22,
  xTitle: [1104, 893], yTitle: [724, 436], rTitle: [1413, 443],
  yTitleParts: [{t: "Wind dir (deg)"}],
  label: [795, 20], labelText: "(b)",
  drawData: function(plot, x, y) {
    const lineC = d3.line().x(d => x(d[0])).y(d => y(d[1]));
    [bCloudA, bCloudB].forEach(cl => {
      plot.append("path").datum(cl).attr("d", lineC).attr("fill", "none")
        .attr("stroke", COL_OBS).attr("stroke-width", 1.1).attr("opacity", 0.5);
    });
    const dots = bCloudA.concat(bCloudB, bScatter);
    plot.selectAll("rect.obs").data(dots).join("rect").attr("class", "obs")
      .attr("x", d => x(d[0]) - 2.5).attr("y", d => y(d[1]) - 2).attr("width", 5).attr("height", 4)
      .attr("fill", COL_OBS).attr("opacity", 0.9);
    segmented(plot, bObservedTrack, x, y, {color: COL_OBS, wide: 18, thin: 3.5, dash: "3,5", gap: 4, op: 0.85, bandDash: "3,1.6"});
    segmented(plot, bModel, x, y, {color: COL_MODEL, wide: 7, thin: 3.5, dash: "3,6", gap: 10, op: 1});
  }
});

// (c)
drawPanel({
  id: "c", l: 120, r: 620, t: 1019, b: 1751, xr: [120, 608],
  yDomain: [-50, 40], major: d3.range(-50, 41, 10), minorStep: 5, fmt: d3.format("d"),
  rightMode: "middle", rightOff: 38,
  xTitle: [358, 1840], yTitle: [18, 1354],
  yTitleParts: [{t: "Air temperature (\u00B0C)"}],
  label: [80, 964], labelText: "(c)",
  drawData: plainLines(cModel, cObserved)
});

// (d)
drawPanel({
  id: "d", l: 842, r: 1341, t: 1019, b: 1751, xr: [842, 1330],
  yDomain: [0, 10], major: d3.range(0, 10.01, 1), minorStep: 0.5, fmt: d3.format(".1f"),
  rightMode: "start", rightOff: 22,
  xTitle: [1104, 1840], yTitle: [724, 1365], rTitle: [1413, 1372],
  yTitleParts: [{t: "Sp. Humidity (g kg"}, {t: "\u22121", sup: true}, {t: ")", after: true}],
  label: [795, 964], labelText: "(d)",
  drawData: plainLines(dModel, dObserved)
});

// legend in (a)
const legendItems = ["Falcon Traj.", "Model", "Observed"];
const legendColors = ["#111", COL_MODEL, COL_OBS];
const legendY = [111, 145, 179];
const lg = svg.append("g");
legendItems.forEach((name, i) => {
  lg.append("line").attr("x1", 389).attr("x2", 431).attr("y1", legendY[i]).attr("y2", legendY[i])
    .attr("stroke", legendColors[i]).attr("stroke-width", 3.2);
  lg.append("text").attr("x", i === 2 ? 441 : 438).attr("y", legendY[i])
    .attr("dominant-baseline", "central").attr("font-size", 29.5).attr("letter-spacing", 0.9)
    .attr("font-family", FONT).text(name);
});
</script>
</body></html>
